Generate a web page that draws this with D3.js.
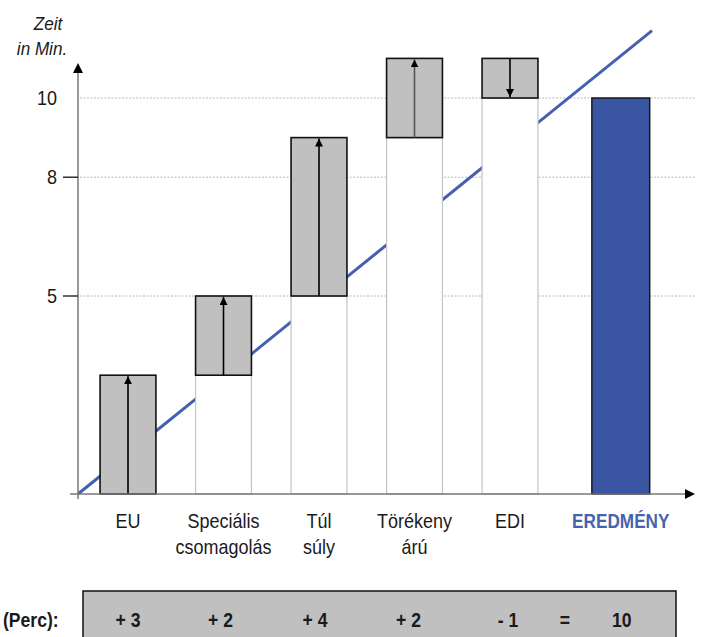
<!DOCTYPE html>
<html><head><meta charset="utf-8">
<script src="https://cdn.jsdelivr.net/npm/d3@7"></script>
<style>
body{margin:0;background:#fff;}
text{font-family:"Liberation Sans",Arial,sans-serif;}
</style></head><body>
<svg id="c" width="709" height="637"></svg>
<script>
// ---- data ----
const categories = [["EU"],["Speciális","csomagolás"],["Túl","súly"],["Törékeny","árú"],["EDI"]];
const deltas = [3, 2, 4, 2, -1];
const resultLabel = "EREDMÉNY";
const resultValue = 10;
const yTicks = [5, 8, 10];
const tableLabels = ["+ 3","+ 2","+ 4","+ 2","- 1"];
const tableEq = "=";
const tableResult = "10";
const trend = [{t:0, v:0},{t:1, v:11.7}];

// ---- layout ----
const svg = d3.select("#c");
const SX = 0.9;
const x0 = 78, y0 = 494;
const y = d3.scaleLinear().domain([0,10]).range([y0, 98]);
const keys = categories.map((d,i)=>i);
const x = d3.scaleBand().domain(keys).range([80.25, 557.75]).paddingInner(0.415).paddingOuter(0.2075);
const bw = x.bandwidth();
const resultCenter = x(4) + bw/2 + x.step()*1.16;
const xt = d3.scaleLinear().domain([0,1]).range([x0, 652]);

function txt(g, tx, ty, s, opts={}){
  const t = g.append("text").attr("transform",`translate(${tx},${ty}) scale(${opts.sx||SX},1)`)
    .attr("text-anchor", opts.anchor||"middle").attr("font-size", opts.size||20)
    .attr("fill", opts.fill||"#1a1a1a").text(s);
  if(opts.weight) t.attr("font-weight", opts.weight);
  if(opts.style) t.attr("font-style", opts.style);
  return t;
}

// cumulative
let cum = 0;
const bars = deltas.map((d,i)=>{ const s = cum; cum += d; return {i, start:s, end:cum, d}; });

// gridlines
svg.append("g").selectAll("line").data(yTicks).join("line")
  .attr("x1", x0+2).attr("x2", 695).attr("y1", d=>y(d)).attr("y2", d=>y(d))
  .attr("stroke", "#b8b8b8").attr("stroke-width", 1).attr("stroke-dasharray","2,1.5");

// trend line (behind bars)
svg.append("path").datum(trend)
  .attr("d", d3.line().x(d=>xt(d.t)).y(d=>y(d.v)))
  .attr("stroke", "#4660b0").attr("stroke-width", 3).attr("fill","none");

// white base bars
svg.append("g").selectAll("rect").data(bars.filter(b=>Math.min(b.start,b.end)>0)).join("rect")
  .attr("x", b=>x(b.i)).attr("width", bw)
  .attr("y", b=>y(Math.min(b.start,b.end))).attr("height", b=>y0 - y(Math.min(b.start,b.end)))
  .attr("fill", "#fff").attr("stroke", "#c4c4c4").attr("stroke-width", 1.2);

// gray delta bars
svg.append("g").selectAll("rect").data(bars).join("rect")
  .attr("x", b=>x(b.i)).attr("width", bw)
  .attr("y", b=>y(Math.max(b.start,b.end))).attr("height", b=>Math.abs(y(b.start)-y(b.end)))
  .attr("fill", "#c0c0c0").attr("stroke", "#111").attr("stroke-width", 1.6);

// arrows
const defs = svg.append("defs");
defs.append("marker").attr("id","ah").attr("viewBox","0 0 10 10").attr("refX",10).attr("refY",5)
  .attr("markerWidth",5).attr("markerHeight",5).attr("orient","auto")
  .append("path").attr("d","M0,0L10,5L0,10Z").attr("fill","#000");
svg.append("g").selectAll("line").data(bars).join("line")
  .attr("x1", b=>x(b.i)+bw/2).attr("x2", b=>x(b.i)+bw/2)
  .attr("y1", b=>y(b.start)).attr("y2", b=>y(b.end) + (b.d>0?1:-1))
  .attr("stroke", (b,i)=> i===3 ? "#555" : "#000").attr("stroke-width", 1.6)
  .attr("marker-end","url(#ah)");

// result bar
svg.append("rect").attr("x", resultCenter - bw/2 - 1).attr("width", bw+2)
  .attr("y", y(resultValue)).attr("height", y0 - y(resultValue))
  .attr("fill", "#3a56a2").attr("stroke","#111").attr("stroke-width",1.4);

// axes
const axm = defs.append("marker").attr("id","ax").attr("viewBox","0 0 10 10").attr("refX",2).attr("refY",5)
  .attr("markerWidth",10).attr("markerHeight",10).attr("markerUnits","userSpaceOnUse").attr("orient","auto");
axm.append("path").attr("d","M0,0L10,5L0,10Z").attr("fill","#000");
svg.append("line").attr("x1",x0).attr("x2",x0).attr("y1",y0+5).attr("y2",71)
  .attr("stroke","#777").attr("stroke-width",1.5).attr("marker-end","url(#ax)");
svg.append("line").attr("x1",70).attr("x2",687).attr("y1",y0).attr("y2",y0)
  .attr("stroke","#777").attr("stroke-width",1.5).attr("marker-end","url(#ax)");

// y ticks (marks at 5 and 8)
svg.append("g").selectAll("line").data(yTicks.filter(d=>d<10)).join("line")
  .attr("x1",63).attr("x2",x0).attr("y1",d=>y(d)).attr("y2",d=>y(d))
  .attr("stroke","#111").attr("stroke-width",1.3);
const yl = svg.append("g");
yTicks.forEach(d=> txt(yl, 57, y(d)+7, d, {anchor:"end", size:20}));
txt(svg, 48, 30, "Zeit", {size:19, style:"italic"});
txt(svg, 42, 55, "in Min.", {size:19, style:"italic"});

// category labels
const cl = svg.append("g");
categories.forEach((lines,i)=> lines.forEach((s,j)=> txt(cl, x(i)+bw/2, 528+j*26, s, {size:20})));
txt(svg, resultCenter, 528, resultLabel, {size:20, weight:"bold", fill:"#4664ae", sx:0.86});

// table
txt(svg, 3, 627, "(Perc):", {size:20, weight:"bold", anchor:"start", sx:0.88});
svg.append("rect").attr("x",83).attr("y",591).attr("width",593).attr("height",60)
  .attr("fill","#c0c0c0").attr("stroke","#111").attr("stroke-width",1.5);
const tg = svg.append("g");
tableLabels.forEach((s,i)=> txt(tg, x(i)+bw/2 - [0,3,4,6,2][i], 627, s, {size:20, weight:"bold", sx:0.88}));
txt(tg, 565, 627, tableEq, {size:20, weight:"bold", sx:0.88});
txt(tg, resultCenter+1, 627, tableResult, {size:20, weight:"bold", sx:0.88});
</script></body></html>
